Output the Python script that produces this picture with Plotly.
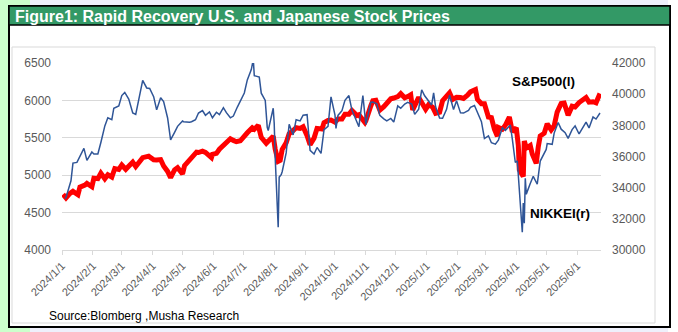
import plotly.graph_objects as go

W, H = 678, 332

# ---------------- data ----------------
sp_dates = ["2024-01-02","2024-01-05","2024-01-09","2024-01-12","2024-01-17","2024-01-19","2024-01-24","2024-01-26","2024-01-31",
"2024-02-02","2024-02-06","2024-02-09","2024-02-13","2024-02-16","2024-02-20","2024-02-23","2024-02-27","2024-03-01","2024-03-05",
"2024-03-08","2024-03-12","2024-03-15","2024-03-19","2024-03-22","2024-03-28","2024-04-02","2024-04-05","2024-04-09","2024-04-12",
"2024-04-16","2024-04-19","2024-04-23","2024-04-26","2024-05-01","2024-05-03","2024-05-07","2024-05-10","2024-05-15","2024-05-17",
"2024-05-21","2024-05-24","2024-05-30","2024-05-31","2024-06-04","2024-06-07","2024-06-12","2024-06-14","2024-06-18","2024-06-21",
"2024-06-24","2024-06-28","2024-07-02","2024-07-05","2024-07-10","2024-07-12","2024-07-16","2024-07-19","2024-07-24","2024-07-26",
"2024-07-31","2024-08-02","2024-08-05","2024-08-07","2024-08-09","2024-08-13","2024-08-16","2024-08-20","2024-08-23","2024-08-27",
"2024-08-30","2024-09-03","2024-09-06","2024-09-10","2024-09-13","2024-09-18","2024-09-20","2024-09-24","2024-09-27","2024-10-01",
"2024-10-04","2024-10-08","2024-10-11","2024-10-15","2024-10-18","2024-10-23","2024-10-25","2024-10-31","2024-11-01","2024-11-06",
"2024-11-08","2024-11-11","2024-11-15","2024-11-19","2024-11-22","2024-11-26","2024-11-29","2024-12-03","2024-12-06","2024-12-10",
"2024-12-13","2024-12-16","2024-12-18","2024-12-20","2024-12-24","2024-12-27","2024-12-31",
"2025-01-03","2025-01-07","2025-01-10","2025-01-14","2025-01-17","2025-01-21","2025-01-24","2025-01-27","2025-01-31","2025-02-04",
"2025-02-07","2025-02-11","2025-02-14","2025-02-19","2025-02-21","2025-02-25","2025-02-28","2025-03-04","2025-03-07","2025-03-10",
"2025-03-13","2025-03-14","2025-03-18","2025-03-21","2025-03-25","2025-03-28","2025-04-01","2025-04-03","2025-04-04","2025-04-08",
"2025-04-09","2025-04-11","2025-04-15","2025-04-17","2025-04-21","2025-04-23","2025-04-25","2025-04-29","2025-05-02","2025-05-06",
"2025-05-09","2025-05-12","2025-05-16","2025-05-19","2025-05-23","2025-05-27","2025-05-30","2025-06-03","2025-06-06","2025-06-10",
"2025-06-13","2025-06-17","2025-06-20","2025-06-24"]
sp_values = [4743,4697,4756,4784,4739,4840,4868,4891,4846,
4959,4954,5027,4953,5006,4976,5089,5078,5137,5079,
5124,5175,5117,5179,5234,5254,5206,5204,5209,5123,
5051,4967,5071,5100,5018,5128,5188,5223,5308,5303,
5321,5305,5236,5278,5292,5347,5421,5432,5487,5465,
5448,5460,5509,5567,5634,5615,5667,5505,5427,5459,
5522,5347,5186,5199,5344,5434,5554,5597,5635,5626,
5648,5529,5408,5496,5626,5618,5703,5732,5738,5709,
5751,5751,5815,5815,5865,5797,5808,5705,5729,5929,
5996,6001,5870,5917,5969,6021,6032,6050,6090,6035,
6051,6074,5872,5931,6040,5971,5882,
5942,5909,5827,5843,5997,6049,6101,6012,6041,6038,
6026,6069,6115,6144,6013,5955,5955,5778,5770,5615,
5522,5639,5615,5668,5777,5581,5633,5397,5074,4983,
5457,5363,5397,5283,5158,5376,5525,5561,5687,5607,
5660,5844,5958,5964,5803,5922,5912,5971,6000,6039,
5977,5982,5968,6092]

nk_dates = ["2024-01-04","2024-01-05","2024-01-10","2024-01-12","2024-01-16","2024-01-19","2024-01-23","2024-01-26","2024-01-31",
"2024-02-02","2024-02-06","2024-02-09","2024-02-13","2024-02-16","2024-02-20","2024-02-22","2024-02-27","2024-03-01","2024-03-04",
"2024-03-08","2024-03-12","2024-03-15","2024-03-19","2024-03-22","2024-03-26","2024-03-29","2024-04-02","2024-04-05","2024-04-09",
"2024-04-12","2024-04-16","2024-04-19","2024-04-23","2024-04-26","2024-05-01","2024-05-02","2024-05-08","2024-05-10","2024-05-14",
"2024-05-17","2024-05-21","2024-05-24","2024-05-28","2024-05-31","2024-06-04","2024-06-07","2024-06-11","2024-06-14","2024-06-18",
"2024-06-21","2024-06-25","2024-06-28","2024-07-02","2024-07-05","2024-07-09","2024-07-11","2024-07-12","2024-07-17","2024-07-19",
"2024-07-23","2024-07-25","2024-07-26","2024-07-31","2024-08-01","2024-08-02","2024-08-05","2024-08-06","2024-08-08","2024-08-09",
"2024-08-13","2024-08-16","2024-08-20","2024-08-23","2024-08-27","2024-08-30","2024-09-03","2024-09-06","2024-09-10","2024-09-13",
"2024-09-17","2024-09-20","2024-09-24","2024-09-27","2024-10-01","2024-10-02","2024-10-04","2024-10-08","2024-10-11","2024-10-15",
"2024-10-18","2024-10-22","2024-10-25","2024-10-29","2024-11-01","2024-11-06","2024-11-08","2024-11-12","2024-11-15","2024-11-19",
"2024-11-22","2024-11-26","2024-11-29","2024-12-03","2024-12-06","2024-12-10","2024-12-13","2024-12-17","2024-12-20","2024-12-24",
"2024-12-27","2024-12-30",
"2025-01-06","2025-01-08","2025-01-10","2025-01-14","2025-01-17","2025-01-21","2025-01-24","2025-01-28","2025-01-31","2025-02-04",
"2025-02-07","2025-02-12","2025-02-14","2025-02-18","2025-02-21","2025-02-25","2025-02-28","2025-03-04","2025-03-07","2025-03-11",
"2025-03-14","2025-03-18","2025-03-21","2025-03-26","2025-03-28","2025-03-31","2025-04-02","2025-04-04","2025-04-07","2025-04-08",
"2025-04-09","2025-04-10","2025-04-11","2025-04-15","2025-04-18","2025-04-22","2025-04-25","2025-05-01","2025-05-02","2025-05-07",
"2025-05-09","2025-05-13","2025-05-16","2025-05-20","2025-05-23","2025-05-27","2025-05-30","2025-06-03","2025-06-06","2025-06-10",
"2025-06-13","2025-06-17","2025-06-20","2025-06-24"]
nk_values = [33288,33377,34441,35577,35619,35963,36518,35751,36287,
36158,36160,36897,37963,38487,38364,39098,39239,39910,40109,
39688,38797,38707,40004,40888,40398,40369,39838,38992,39773,
39523,38471,37068,37552,37934,38274,38236,38202,38229,38356,
38787,38946,38646,38856,38487,38837,38683,39134,38814,38482,
38596,39173,39583,40074,40912,41580,42224,41190,41098,40063,
39594,37869,37667,39101,38126,35909,31458,34675,34831,35025,
36232,38062,37388,38364,38288,38647,38686,36391,36159,36581,
36203,37723,37940,39829,38651,37808,38635,38938,39605,39910,
38981,38411,37913,39903,38053,39480,39500,39376,38642,38414,
38283,38442,38208,39248,39091,39367,39470,39364,38701,39036,
40281,39894,
39307,40083,39190,38474,38451,39027,39931,39016,39572,38798,
38787,38964,39149,39270,38776,38238,37155,37331,36887,36793,
37053,37845,37677,38027,37120,35617,35725,33780,31136,33012,
31714,34609,33586,34267,34730,34220,35705,36452,36831,36780,
37503,38183,37753,37529,37160,37724,37965,37446,37741,38211,
37834,38537,38403,38790]

tick_dates = ["2024-01-01","2024-02-01","2024-03-01","2024-04-01","2024-05-01","2024-06-01","2024-07-01","2024-08-01","2024-09-01",
"2024-10-01","2024-11-01","2024-12-01","2025-01-01","2025-02-01","2025-03-01","2025-04-01","2025-05-01","2025-06-01"]
tick_labels = ["2024/1/1","2024/2/1","2024/3/1","2024/4/1","2024/5/1","2024/6/1","2024/7/1","2024/8/1","2024/9/1",
"2024/10/1","2024/11/1","2024/12/1","2025/1/1","2025/2/1","2025/3/1","2025/4/1","2025/5/1","2025/6/1"]
left_ticks = [4000, 4500, 5000, 5500, 6000, 6500]
right_ticks = [30000, 32000, 34000, 36000, 38000, 40000, 42000]

title_text = "Figure1: Rapid Recovery U.S. and Japanese Stock Prices"
source_text = "Source:Blomberg ,Musha Research"

# ---------------- helpers ----------------
def px(x):
    return x / W

def py(y):
    return 1 - y / H

FONT = "Liberation Sans, Arial, sans-serif"
GREY = "#595959"
GRID = "#D9D9D9"

fig = go.Figure()
fig.add_trace(go.Scatter(x=sp_dates, y=sp_values, mode="lines", name="S&P500(l)",
                         line=dict(color="#FF0000", width=5), yaxis="y"))
fig.add_trace(go.Scatter(x=nk_dates, y=nk_values, mode="lines", name="NIKKEI(r)",
                         line=dict(color="#2F5597", width=1.5), yaxis="y2"))

shapes = [
    dict(type="rect", xref="paper", yref="paper", x0=px(0), x1=px(30), y0=py(332), y1=py(0),
         fillcolor="#CCFFCC", line=dict(width=0), layer="below"),
    dict(type="rect", xref="paper", yref="paper", x0=px(30), x1=px(668), y0=py(332), y1=py(0),
         fillcolor="#EEF0FB", line=dict(width=0), layer="below"),
    dict(type="rect", xref="paper", yref="paper", x0=px(9), x1=px(670), y0=py(327), y1=py(6),
         fillcolor="white", line=dict(color="black", width=2), layer="below"),
    dict(type="rect", xref="paper", yref="paper", x0=px(9), x1=px(670), y0=py(25), y1=py(6),
         fillcolor="#339966", line=dict(color="black", width=1.5), layer="below"),
    dict(type="rect", xref="paper", yref="paper", x0=px(12), x1=px(655), y0=py(323), y1=py(47),
         fillcolor="rgba(0,0,0,0)", line=dict(color=GRID, width=1), layer="below"),
]

annotations = [
    dict(text="<b>" + title_text + "</b>", xref="paper", yref="paper", x=px(13), y=py(16),
         xanchor="left", yanchor="middle", showarrow=False,
         font=dict(family="Liberation Sans Narrow, Arial Narrow, sans-serif", size=16, color="white")),
    dict(text="<b>S&P500(l)</b>", xref="paper", yref="paper", x=px(510), y=py(82),
         xanchor="left", yanchor="middle", showarrow=False,
         font=dict(family=FONT, size=13.5, color="black")),
    dict(text="<b>NIKKEI(r)</b>", xref="paper", yref="paper", x=px(528), y=py(213),
         xanchor="left", yanchor="middle", showarrow=False,
         font=dict(family=FONT, size=13.5, color="black")),
    dict(text=source_text, xref="paper", yref="paper", x=px(47), y=py(316),
         xanchor="left", yanchor="middle", showarrow=False,
         font=dict(family=FONT, size=12, color="black")),
]

fig.update_layout(
    width=W, height=H,
    margin=dict(l=0, r=0, t=0, b=0, pad=0, autoexpand=False),
    paper_bgcolor="white", plot_bgcolor="rgba(0,0,0,0)",
    showlegend=False,
    font=dict(family=FONT, size=12, color=GREY),
    shapes=shapes, annotations=annotations,
    xaxis=dict(type="date", domain=[px(62), px(601)], range=["2024-01-01", "2025-06-25"],
               tickvals=tick_dates, ticktext=tick_labels, tickangle=-45,
               tickfont=dict(family=FONT, size=11, color=GREY),
               showgrid=False, zeroline=False, showline=True, linecolor=GRID, linewidth=1,
               ticks="outside", ticklen=4, tickcolor=GRID, anchor="y", automargin=False),
    yaxis=dict(domain=[py(250), py(63)], range=[4000, 6500], tickvals=left_ticks,
               tickformat="d",
               tickfont=dict(family=FONT, size=12, color=GREY),
               showgrid=True, gridcolor=GRID, gridwidth=1, zeroline=False, showline=False,
               ticks="", ticklabelstandoff=10, anchor="x", automargin=False),
    yaxis2=dict(domain=[py(250), py(63)], range=[30000, 42000], tickvals=right_ticks,
                tickformat="d",
                overlaying="y", side="right", anchor="x",
                tickfont=dict(family=FONT, size=12, color=GREY),
                showgrid=False, zeroline=False, showline=False, ticks="", ticklabelstandoff=10,
                automargin=False),
)

fig.write_html("out.html")
